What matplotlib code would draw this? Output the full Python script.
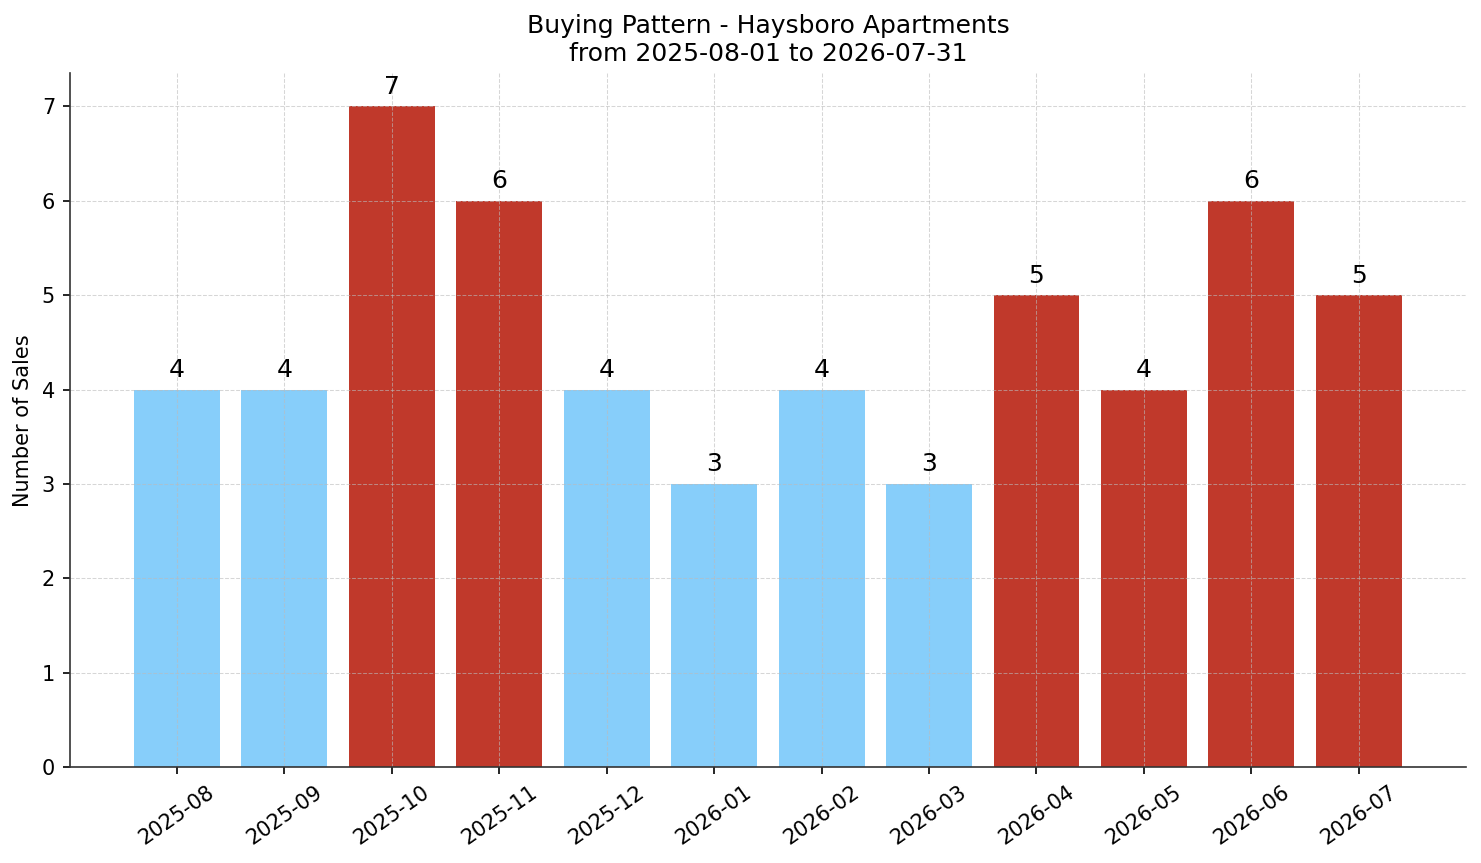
import matplotlib
matplotlib.use("Agg")
import matplotlib.pyplot as plt

# Daten
months = ['2025-08', '2025-09', '2025-10', '2025-11', '2025-12', '2026-01',
          '2026-02', '2026-03', '2026-04', '2026-05', '2026-06', '2026-07']
sales = [4, 4, 7, 6, 4, 3, 4, 3, 5, 4, 6, 5]
hot = [False, False, True, True, False, False, False, False, True, True, True, True]

colors = ['#C0392B' if h else '#87CEFA' for h in hot]

fig, ax = plt.subplots(figsize=(1481 / 150, 863 / 150), dpi=150)
x = range(len(months))
bars = ax.bar(x, sales, color=colors, width=0.8)

for b, v in zip(bars, sales):
    ax.text(b.get_x() + b.get_width() / 2, v + 0.08, str(v),
            ha='center', va='bottom', fontsize=12)

ax.set_xticks(list(x))
ax.set_xticklabels(months, rotation=35, fontsize=10)
ax.tick_params(axis='y', labelsize=10)
ax.set_xlim(-1, 12)
ax.set_ylim(0, 7.35)
ax.set_ylabel('Number of Sales', fontsize=10)
ax.set_title('Buying Pattern - Haysboro Apartments\nfrom 2025-08-01 to 2026-07-31', fontsize=12)
ax.grid(True, linestyle='--', color='#bbbbbb', alpha=0.6, linewidth=0.5)
ax.spines['top'].set_visible(False)
ax.spines['right'].set_visible(False)
for s in ['left', 'bottom']:
    ax.spines[s].set_color('#333333')

plt.subplots_adjust(left=0.047, right=0.99, top=0.915, bottom=0.111)
plt.savefig('out.png')
